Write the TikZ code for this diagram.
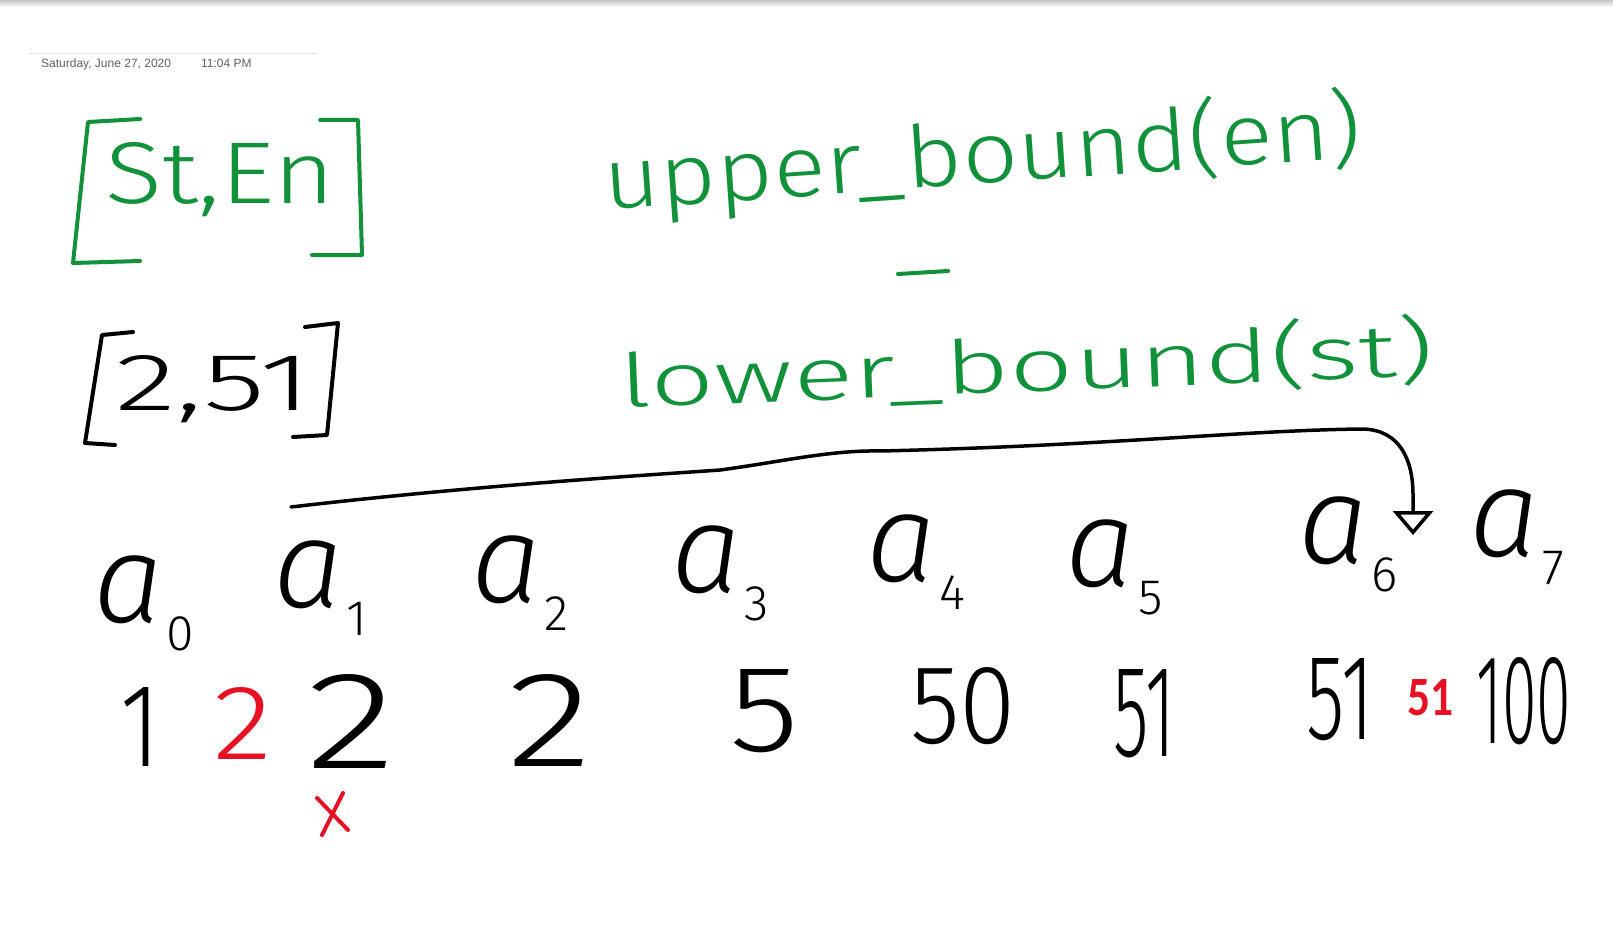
\documentclass[tikz,border=0pt]{standalone}
\usepackage{fontspec}
\setmainfont{Fira Sans}[UprightFont=* Light, ItalicFont=* Light Italic]
\newfontfamily\datefont{Liberation Sans}
\newfontfamily\typedfont{Carlito}
\usetikzlibrary{arrows.meta}
\definecolor{pengreen}{RGB}{16,145,58}
\definecolor{penred}{RGB}{232,17,35}
\definecolor{headgray}{RGB}{96,96,96}
\newcommand{\subidx}[1]{\kern3pt\raisebox{-28pt}{\fontsize{50}{50}\selectfont\upshape #1}}

\begin{document}
\begin{tikzpicture}[x=1pt,y=-1pt,
    ink/.style={line width=4pt, line cap=round, line join=round},
    greenink/.style={ink, pengreen},
    redink/.style={ink, penred},
    hand/.style={anchor=base west, inner sep=0pt},
    idx/.style={anchor=base west, inner sep=0pt, font=\fontsize{125}{125}\selectfont},
    val/.style={anchor=base, inner sep=0pt, font=\fontsize{100}{100}\selectfont}]
    \useasboundingbox (0,0) rectangle (1613,939);
    \fill[white] (0,0) rectangle (1613,939);
    \shade[top color=gray!45, bottom color=white] (0,0) rectangle (1613,7);

    % Page header
    \draw[gray!25, line width=1pt] (29,54) -- (317,54);
    \node[hand, text=headgray, font=\datefont\fontsize{12}{14}\selectfont] (date) at (41,68) {Saturday, June 27, 2020};
    \node[hand, text=headgray, font=\datefont\fontsize{12}{14}\selectfont] (time) at (201,68) {11:04 PM};

    % Range
    \draw[greenink] (140,119) -- (88,122) -- (73,263) -- (140,261);
    \draw[greenink] (320,120) -- (358,120) -- (362,255) -- (312,255);
    \node[hand, text=pengreen] (range) at (105,203) {\resizebox{230pt}{61pt}{St,En}};

    % Count formula
    \node[hand, text=pengreen, rotate=4] (upper) at (605,210) {\resizebox{760pt}{72pt}{upper\_bound(en)}};
    \draw[greenink] (898,274) -- (948,271);
    \node[hand, text=pengreen, rotate=2.3] (lower) at (620,408) {\resizebox{815pt}{62pt}{lower\_bound(st)}};

    % Query example
    \draw[ink] (133,332) -- (102,335) -- (85,443) -- (115,445);
    \draw[ink] (305,327) -- (338,323) -- (327,435) -- (293,437);
    \node[hand] (query) at (115,410) {\resizebox{197pt}{55pt}{2,51}};

    % Array indices
    \node[idx] (a0) at (93,622) {\itshape a\subidx{0}};
    \node[idx] (a1) at (273,607) {\itshape a\subidx{1}};
    \node[idx] (a2) at (471,602) {\itshape a\subidx{2}};
    \node[idx] (a3) at (671,592) {\itshape a\subidx{3}};
    \node[idx] (a4) at (866,581) {\itshape a\subidx{4}};
    \node[idx] (a5) at (1065,586) {\itshape a\subidx{5}};
    \node[idx] (a6) at (1298,563) {\itshape a\subidx{6}};
    \node[idx] (a7) at (1469,556) {\itshape a\subidx{7}};

    % Array values
    \node[val] (v0) at (140,766) {\resizebox{40pt}{79pt}{1}};
    \node[val, text=penred] (v1red) at (243,759) {\resizebox{59pt}{72pt}{2}};
    \node[val] (v1) at (351,768) {\resizebox{90pt}{94pt}{2}};
    \node[val] (v2) at (550,766) {\resizebox{85pt}{92pt}{2}};
    \node[val] (v3) at (764,751) {\resizebox{70pt}{82pt}{5}};
    \node[val] (v4) at (963,743) {\resizebox{106pt}{76pt}{50}};
    \node[val] (v5) at (1144,756) {\resizebox{62pt}{87pt}{51}};
    \node[val] (v6) at (1340,739) {\resizebox{67pt}{81pt}{51}};
    \node[anchor=base, inner sep=0pt, text=penred, font=\typedfont\bfseries] (v6red) at (1430,715) {\resizebox{46pt}{36pt}{51}};
    \node[val] (v7) at (1524,743) {\resizebox{95pt}{86pt}{100}};

    % Wrong position mark
    \draw[redink] (317,798) -- (348,830);
    \draw[redink] (343,793) -- (322,835);

    % Jump from lower bound to upper bound
    \coordinate (jumpfrom) at (291,507);
    \coordinate (jumpto) at (1413,535);
    \draw[ink, line width=3.5pt, -{Triangle[open, length=24pt, width=40pt, line width=3.5pt]}]
        (jumpfrom) .. controls (480,485) and (650,475) .. (720,470)
        .. controls (780,462) and (830,450) .. (880,451)
        .. controls (1100,446) and (1250,430) .. (1363,429)
        .. controls (1400,430) and (1413,460) .. (1413,495) -- (jumpto);
\end{tikzpicture}
\end{document}
